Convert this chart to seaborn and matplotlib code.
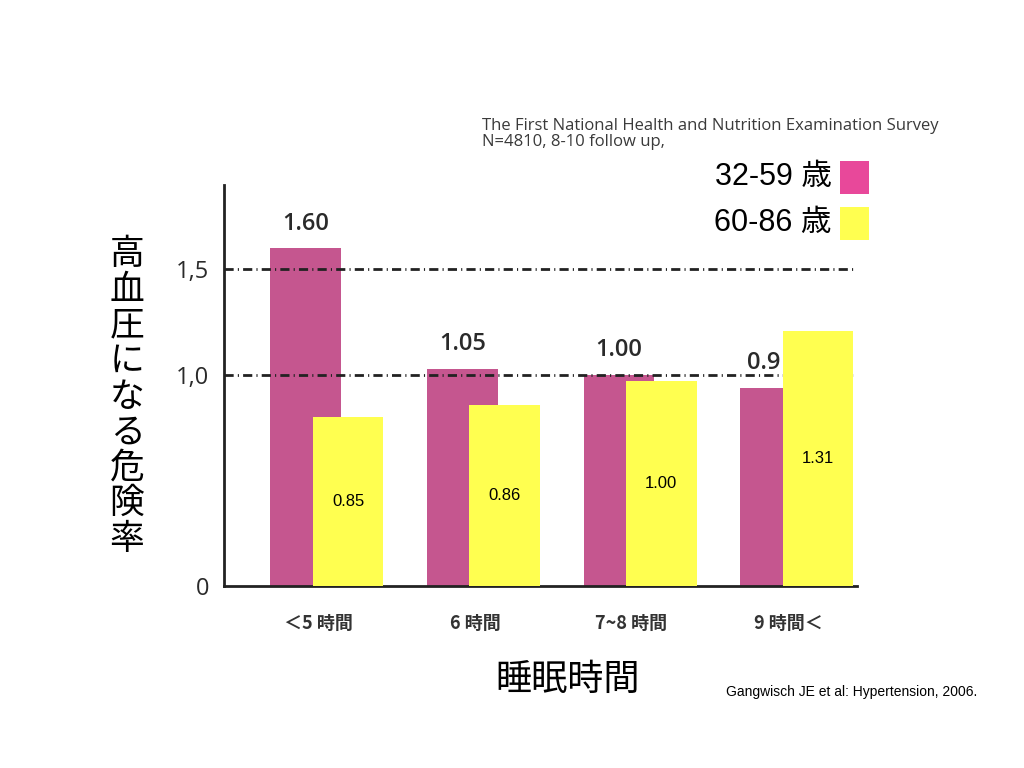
import numpy as np
import pandas as pd
import seaborn as sns
import matplotlib.pyplot as plt

sns.set_theme(style = "white")
plt.rcParams['font.family'] = ['Liberation Sans', 'Noto Sans CJK JP', 'DejaVu Sans']

# Data
sleep_hours = ["＜5 時間", "6 時間", "7~8 時間", "9 時間＜"]
risk_young = [1.60, 1.03, 1.00, 0.94]
risk_young_labels = ["1.60", "1.05", "1.00", "0.9"]
risk_old = [0.80, 0.86, 0.97, 1.21]
risk_old_labels = ["0.85", "0.86", "1.00", "1.31"]
y_ticks = [0, 1.0, 1.5]
y_tick_labels = ["0", "1,0", "1,5"]
group_names = ["32-59 歳", "60-86 歳"]

magenta = "#C5568F"
yellow = "#FFFF50"
cjk = ['Noto Sans CJK JP', 'DejaVu Sans']
myriad = ['Open Sans', 'DejaVu Sans']

pos = np.arange(len(sleep_hours))
young_df = pd.DataFrame({"pos": pos, "risk": risk_young})
old_df = pd.DataFrame({"pos": pos + 0.27, "risk": risk_old})

fig = plt.figure(figsize = (10.24, 7.68), dpi = 100)
ax = fig.add_axes([0.219, 0.237, 0.618, 0.522])

sns.barplot(data = young_df, x = "pos", y = "risk", native_scale = True, width = 0.45,
            color = magenta, saturation = 1, errorbar = None, ax = ax, zorder = 1, linewidth = 0)
for y in [1.0, 1.5]:
    ax.axhline(y, color = "#222222", lw = 2, linestyle = (0, (3.3, 1.5, 0.4, 1.5)), zorder = 2)

# Labels above the 32-59 bars (last one is partly hidden by the yellow bar)
for i, (h, lab) in enumerate(zip(risk_young, risk_young_labels)):
    last = i == len(risk_young) - 1
    ax.annotate(lab, (i + 0.03 if last else i, h), xytext = (0, 9), textcoords = "offset points",
                ha = "right" if last else "center", va = "bottom", fontsize = 17,
                color = "#2a2a2a", family = myriad, fontweight = "semibold", zorder = 2)

sns.barplot(data = old_df, x = "pos", y = "risk", native_scale = True, width = 0.45,
            color = yellow, saturation = 1, errorbar = None, ax = ax, zorder = 3, linewidth = 0)
for x, h, lab in zip(pos + 0.27, risk_old, risk_old_labels):
    ax.text(x, h / 2, lab, ha = "center", va = "center", fontsize = 12, color = "black", zorder = 4)

ax.set_xlim(-0.52, 3.52)
ax.set_ylim(0, 1.9)
ax.set_xticks(pos + 0.08)
ax.set_xticklabels(sleep_hours, family = cjk, fontsize = 13, fontweight = "bold", color = "#333333")
ax.set_yticks(y_ticks)
ax.set_yticklabels(y_tick_labels, family = myriad, fontsize = 17, color = "#2a2a2a")
ax.tick_params(axis = "y", length = 0, pad = 11)
ax.tick_params(axis = "x", length = 0, pad = 20)
ax.set_xlabel("")
ax.set_ylabel("")
sns.despine(ax = ax)
for side in ["left", "bottom"]:
    ax.spines[side].set_color("#222222")
    ax.spines[side].set_linewidth(2)

# Vertical stacked y-axis title
fig.text(0.124, 0.483, "\n".join("高血圧になる危険率"), ha = "center", va = "center",
         fontsize = 25, family = cjk, linespacing = 1.02, color = "black")
fig.text(0.554, 0.115, "睡眠時間", ha = "center", va = "center", fontsize = 26, family = cjk,
         color = "black")

fig.text(0.471, 0.825, "The First National Health and Nutrition Examination Survey\nN=4810, 8-10 follow up,",
         ha = "left", va = "center", fontsize = 12, color = "#3a3a3a",
         family = myriad, linespacing = 1.0)

# Legend drawn as text + colour squares
for k, (name, col) in enumerate(zip(group_names, ["#E8489A", yellow])):
    yc = 0.770 - k * 0.060
    fig.text(0.812, yc, name, ha = "right", va = "center", fontsize = 22, color = "black")
    fig.patches.append(plt.Rectangle((0.820, yc - 0.022), 0.029, 0.043, transform = fig.transFigure,
                                     facecolor = col, edgecolor = "none"))

fig.text(0.709, 0.099, "Gangwisch JE et al: Hypertension, 2006.", ha = "left", va = "center",
         fontsize = 10, color = "black")

fig.savefig("out.png", dpi = 100, facecolor = "white")
